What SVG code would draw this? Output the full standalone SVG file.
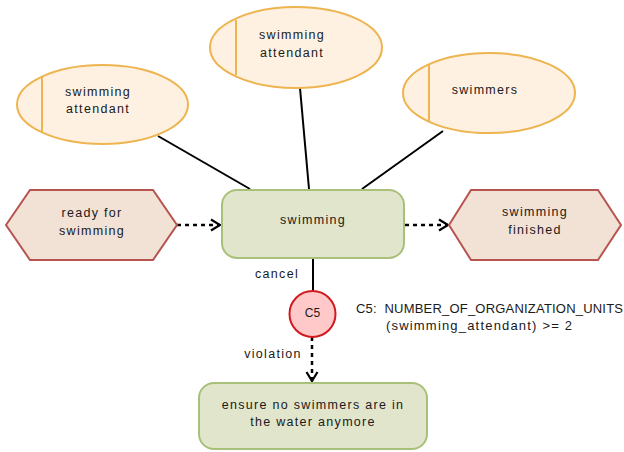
<svg xmlns="http://www.w3.org/2000/svg" width="624" height="452" viewBox="0 0 624 452">
<defs>
<style>
.lbl{font-family:"Liberation Sans",Arial,sans-serif;font-size:12.5px;letter-spacing:1.3px;fill:#1a1a1a;text-anchor:middle;dominant-baseline:central}
.org{fill:#FFF1E1;stroke:#EDB44F;stroke-width:2}
.evt{fill:#F2E1D5;stroke:#B85450;stroke-width:2}
.fn{fill:#E1E5CB;stroke:#A9C07A;stroke-width:2}
.solid{stroke:#000;stroke-width:2;fill:none}
.dash{stroke:#000;stroke-width:2.5;fill:none;stroke-dasharray:4 4}
</style>
<marker id="arr" markerUnits="userSpaceOnUse" markerWidth="12" markerHeight="14" viewBox="0 0 12 14" refX="10" refY="7" orient="auto">
<path d="M1,1.5 L10,7 L1,12.5" fill="none" stroke="#000" stroke-width="2.2"/>
</marker>
</defs>
<rect width="624" height="452" fill="#fff"/>
<g id="connectors">
<line class="solid" x1="158" y1="136" x2="250" y2="189"/>
<line class="solid" x1="300" y1="88" x2="309" y2="189"/>
<line class="solid" x1="443" y1="131" x2="362" y2="189"/>
<line class="dash" x1="177" y1="225" x2="220" y2="225" marker-end="url(#arr)"/>
<line class="dash" x1="405" y1="225" x2="448" y2="225" marker-end="url(#arr)"/>
<line class="solid" x1="313" y1="259" x2="313" y2="291"/>
<text class="lbl" x="277" y="274">cancel</text>
<line class="dash" x1="312" y1="337" x2="312" y2="381" marker-end="url(#arr)"/>
<text class="lbl" x="273" y="354">violation</text>
</g>
<g id="org1">
<ellipse class="org" cx="102.5" cy="104.5" rx="85.5" ry="39.5"/>
<line x1="42" y1="77" x2="42" y2="132" stroke="#EDB44F" stroke-width="2"/>
<text class="lbl" x="98" y="92">swimming</text>
<text class="lbl" x="98" y="109">attendant</text>
</g>
<g id="org2">
<ellipse class="org" cx="296" cy="47.5" rx="86" ry="40.5"/>
<line x1="236" y1="20" x2="236" y2="75" stroke="#EDB44F" stroke-width="2"/>
<text class="lbl" x="292" y="35">swimming</text>
<text class="lbl" x="292" y="53">attendant</text>
</g>
<g id="org3">
<ellipse class="org" cx="489" cy="93" rx="86" ry="40"/>
<line x1="429" y1="65" x2="429" y2="121" stroke="#EDB44F" stroke-width="2"/>
<text class="lbl" x="485" y="90">swimmers</text>
</g>
<g id="evt-ready">
<polygon class="evt" points="6,225 30,190 153,190 177,225 153,260 30,260"/>
<text class="lbl" x="92" y="213">ready for</text>
<text class="lbl" x="92" y="231">swimming</text>
</g>
<g id="fn-swimming">
<rect class="fn" x="222" y="190" width="182" height="68" rx="15"/>
<text class="lbl" x="313" y="220">swimming</text>
</g>
<g id="evt-finished">
<polygon class="evt" points="449,225 471,190 598,190 621,225 598,260 471,260"/>
<text class="lbl" x="535" y="212">swimming</text>
<text class="lbl" x="535" y="230">finished</text>
</g>
<g id="c5">
<circle cx="312.5" cy="314" r="23" fill="#FFC9C9" stroke="#D01A1F" stroke-width="2"/>
<text x="312.5" y="313" font-family="'Liberation Sans',Arial,sans-serif" font-size="12" fill="#1a1a1a" text-anchor="middle" dominant-baseline="central">C5</text>
</g>
<g id="c5-label" font-family="'Liberation Sans',Arial,sans-serif" font-size="13" fill="#1a1a1a">
<text x="356" y="308" dominant-baseline="central" textLength="267" lengthAdjust="spacing" xml:space="preserve">C5:  NUMBER_OF_ORGANIZATION_UNITS</text>
<text x="386" y="325" dominant-baseline="central" textLength="186" lengthAdjust="spacing">(swimming_attendant) &gt;= 2</text>
</g>
<g id="fn-ensure">
<rect class="fn" x="199" y="383" width="228" height="66" rx="15"/>
<text class="lbl" x="313" y="405">ensure no swimmers are in</text>
<text class="lbl" x="313" y="422">the water anymore</text>
</g>
</svg>
